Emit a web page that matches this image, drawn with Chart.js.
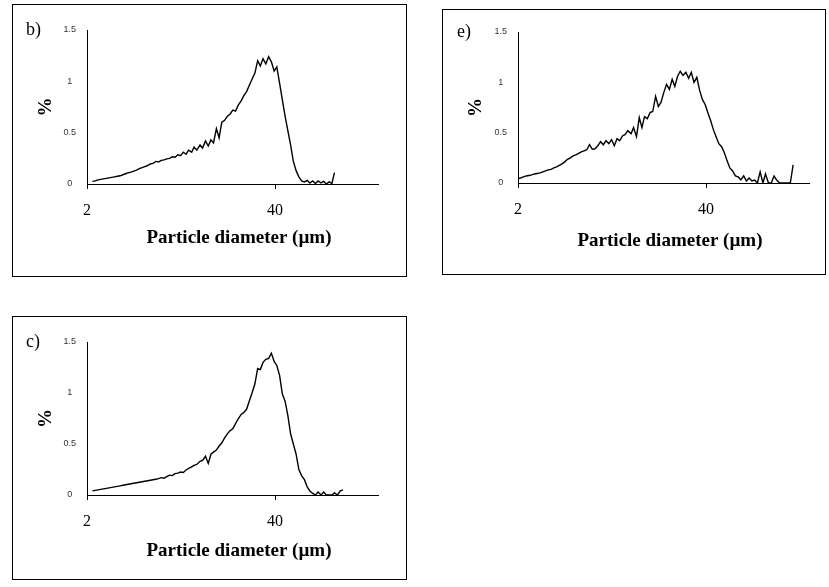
<!DOCTYPE html>
<html>
<head>
<meta charset="utf-8">
<script src="https://cdn.jsdelivr.net/npm/chart.js@4.4.1/dist/chart.umd.min.js"></script>
<style>
  html, body { margin: 0; padding: 0; background: #fff; }
  body { width: 829px; height: 587px; position: relative; overflow: hidden; }
  .box { position: absolute; border: 1px solid #000; box-sizing: border-box; }
  .box canvas { position: absolute; left: 0; top: 0; }
</style>
</head>
<body>
<div class="box" style="left:12px;top:4px;width:395px;height:273px"><canvas id="chartB" width="393" height="271"></canvas></div>
<div class="box" style="left:442px;top:9px;width:384px;height:266px"><canvas id="chartE" width="382" height="264"></canvas></div>
<div class="box" style="left:12px;top:316px;width:395px;height:264px"><canvas id="chartC" width="393" height="262"></canvas></div>
<script>
// particle diameter bins (um), shared by all three samples
const diameters = [2.00, 2.09, 2.18, 2.28, 2.38, 2.49, 2.60, 2.72, 2.84, 2.97,
  3.10, 3.24, 3.39, 3.54, 3.70, 3.86, 4.03, 4.21, 4.40, 4.60,
  4.81, 5.02, 5.25, 5.48, 5.73, 5.98, 6.25, 6.53, 6.82, 7.13,
  7.45, 7.78, 8.13, 8.50, 8.88, 9.27, 9.69, 10.1, 10.6, 11.0,
  11.5, 12.1, 12.6, 13.2, 13.8, 14.4, 15.0, 15.7, 16.4, 17.1,
  17.9, 18.7, 19.5, 20.4, 21.3, 22.3, 23.3, 24.3, 25.4, 26.5,
  27.7, 29.0, 30.3, 31.6, 33.0, 34.5, 36.1, 37.7, 39.4, 41.1,
  43.0, 44.9, 46.9, 49.0, 51.2, 53.5, 55.9, 58.4, 61.0, 63.8,
  66.7, 69.6, 72.8, 76.0, 79.4, 83.0, 86.7, 90.6, 94.6, 98.9,
  103, 108, 113, 118, 123, 129, 134, 140, 147, 153,
  160];

// volume % per bin
const valuesB = [null, null, 0.025, 0.03, 0.04, 0.045, 0.05, 0.055, 0.06, 0.065,
  0.07, 0.075, 0.08, 0.09, 0.10, 0.11, 0.115, 0.125, 0.135, 0.15,
  0.16, 0.17, 0.18, 0.195, 0.20, 0.22, 0.215, 0.23, 0.235, 0.245,
  0.25, 0.265, 0.26, 0.285, 0.275, 0.31, 0.29, 0.33, 0.31, 0.36,
  0.33, 0.38, 0.35, 0.42, 0.37, 0.43, 0.40, 0.54, 0.45, 0.60,
  0.62, 0.66, 0.68, 0.72, 0.71, 0.77, 0.81, 0.86, 0.90, 0.96,
  1.02, 1.08, 1.20, 1.15, 1.22, 1.17, 1.24, 1.19, 1.10, 1.14,
  0.98, 0.82, 0.66, 0.52, 0.38, 0.22, 0.13, 0.07, 0.03, 0.02,
  0.035, 0.01, 0.03, 0.005, 0.03, 0.01, 0.025, 0.0, 0.02, 0.005,
  0.11];

const valuesE = [0.045, 0.05, 0.06, 0.07, 0.075, 0.08, 0.09, 0.095, 0.10, 0.11,
  0.12, 0.13, 0.135, 0.15, 0.16, 0.175, 0.19, 0.21, 0.235, 0.25,
  0.27, 0.28, 0.295, 0.31, 0.32, 0.33, 0.38, 0.335, 0.34, 0.37,
  0.41, 0.38, 0.42, 0.39, 0.43, 0.37, 0.44, 0.42, 0.47, 0.48,
  0.52, 0.49, 0.55, 0.46, 0.65, 0.55, 0.66, 0.64, 0.70, 0.71,
  0.86, 0.76, 0.80, 0.90, 0.98, 0.93, 1.03, 0.96, 1.06, 1.11,
  1.07, 1.10, 1.04, 1.10, 1.00, 1.05, 0.92, 0.83, 0.78, 0.70,
  0.62, 0.53, 0.46, 0.39, 0.36, 0.30, 0.22, 0.15, 0.12, 0.07,
  0.06, 0.03, 0.07, 0.02, 0.05, 0.02, 0.03, 0.0, 0.11, 0.0,
  0.09, 0.0, 0.0, 0.07, 0.03, 0.0, 0.0, 0.0, 0.0, 0.0,
  0.18];

const valuesC = [null, null, 0.04, 0.045, 0.05, 0.055, 0.06, 0.065, 0.07, 0.075,
  0.08, 0.085, 0.09, 0.095, 0.10, 0.105, 0.11, 0.115, 0.12, 0.125,
  0.13, 0.135, 0.14, 0.145, 0.15, 0.155, 0.16, 0.17, 0.165, 0.18,
  0.195, 0.19, 0.21, 0.215, 0.225, 0.22, 0.245, 0.26, 0.275, 0.29,
  0.30, 0.33, 0.34, 0.38, 0.31, 0.40, 0.42, 0.44, 0.48, 0.51,
  0.56, 0.60, 0.63, 0.65, 0.70, 0.75, 0.79, 0.81, 0.84, 0.92,
  1.00, 1.09, 1.24, 1.23, 1.30, 1.33, 1.34, 1.39, 1.31, 1.27,
  1.17, 0.99, 0.92, 0.78, 0.60, 0.50, 0.40, 0.25, 0.19, 0.15,
  0.08, 0.04, 0.015, 0.0, 0.03, 0.0, 0.03, 0.0, 0.0, 0.0,
  0.02, 0.0, 0.04, 0.05];

const xTicks = [2, 40];
const yTicks = [0, 0.5, 1, 1.5];
const xTitle = 'Particle diameter (µm)';

function points(values) {
  const pts = [];
  values.forEach((v, i) => { if (v !== null) pts.push({ x: diameters[i], y: v }); });
  return pts;
}

// panel letter + x axis title (title sits a bit right of the plot centre, like the original)
const panelText = {
  id: 'panelText',
  afterDraw(chart, args, opts) {
    const { ctx, chartArea: a } = chart;
    ctx.save();
    ctx.fillStyle = '#000';
    ctx.textBaseline = 'middle';
    ctx.textAlign = 'left';
    ctx.font = '18px "Liberation Serif"';
    ctx.fillText(opts.label, a.left - 61, a.top);
    ctx.textAlign = 'center';
    ctx.font = 'bold 19px "Liberation Serif"';
    ctx.fillText(xTitle, (a.left + a.right) / 2 + 6.5, a.bottom + opts.titleGap);
    ctx.restore();
  }
};

function drawPanel(id, label, values, area, titleGap) {
  const canvas = document.getElementById(id);
  const w = canvas.width, h = canvas.height;
  return new Chart(canvas, {
    type: 'line',
    data: {
      datasets: [{
        data: points(values),
        borderColor: '#000',
        borderWidth: 1.4,
        pointRadius: 0,
        tension: 0,
        fill: false
      }]
    },
    options: {
      responsive: false,
      animation: false,
      events: [],
      layout: { padding: { left: 0, top: area.top, right: w - area.right, bottom: 0 } },
      plugins: {
        legend: { display: false },
        tooltip: { enabled: false },
        panelText: { label, titleGap }
      },
      scales: {
        x: {
          type: 'logarithmic',
          min: 2,
          max: 206,
          afterBuildTicks: s => { s.ticks = xTicks.map(v => ({ value: v })); },
          afterFit: s => { s.height = h - area.bottom; },
          ticks: {
            autoSkip: false,
            maxRotation: 0,
            padding: 12,
            color: '#000',
            font: { family: '"Liberation Serif"', size: 16 },
            callback: v => String(v)
          },
          grid: { display: true, drawOnChartArea: false, drawTicks: true, tickLength: 5, color: '#000', lineWidth: 1 },
          border: { display: true, color: '#000', width: 1 }
        },
        y: {
          min: 0,
          max: 1.5,
          afterBuildTicks: s => { s.ticks = yTicks.map(v => ({ value: v })); },
          afterFit: s => { s.width = area.left; },
          ticks: {
            crossAlign: 'center',
            padding: 11,
            color: '#333',
            font: { family: '"Liberation Sans"', size: 9 },
            callback: v => String(v)
          },
          grid: { display: true, drawOnChartArea: false, drawTicks: false },
          border: { display: true, color: '#000', width: 1 },
          title: {
            display: true,
            text: '%',
            color: '#000',
            font: { family: '"Liberation Serif"', size: 19, weight: 'bold' },
            padding: { top: 22, bottom: 0 }
          }
        }
      }
    },
    plugins: [panelText]
  });
}

drawPanel('chartB', 'b)', valuesB, { left: 74, top: 25, right: 365, bottom: 179 }, 54);
drawPanel('chartE', 'e)', valuesE, { left: 75, top: 22, right: 366, bottom: 173 }, 58);
drawPanel('chartC', 'c)', valuesC, { left: 74, top: 25, right: 365, bottom: 178 }, 56);
</script>
</body>
</html>
